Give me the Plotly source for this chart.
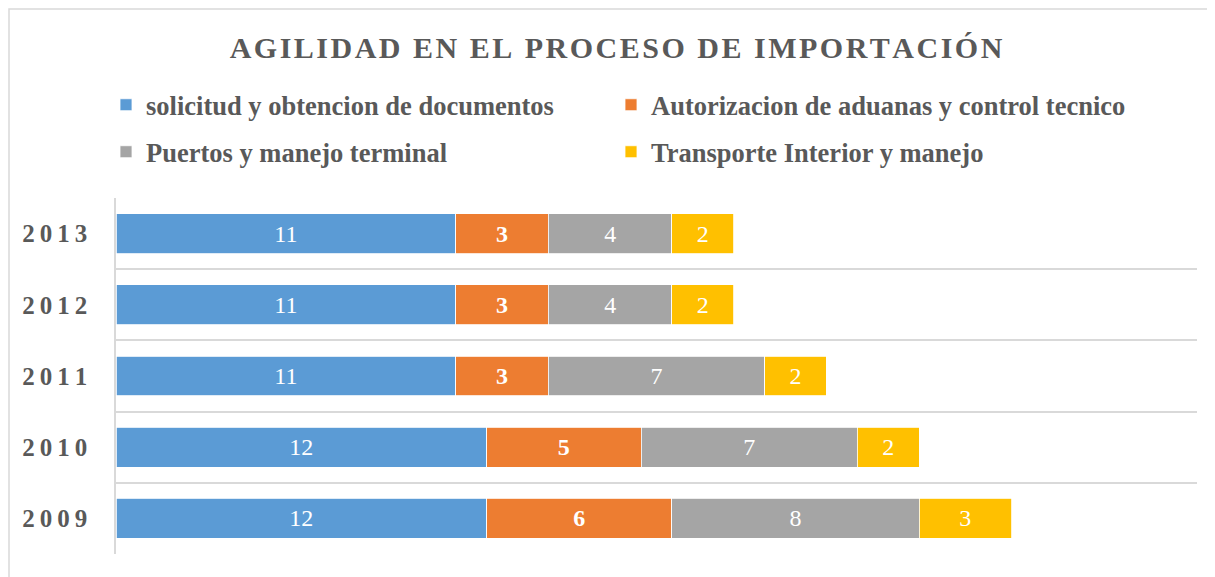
import plotly.graph_objects as go

years = ["2009", "2010", "2011", "2012", "2013"]
series_names = [
    "solicitud y obtencion de documentos",
    "Autorizacion de aduanas y control tecnico",
    "Puertos y manejo terminal",
    "Transporte Interior y manejo",
]
solicitud = [12, 12, 11, 11, 11]
autorizacion = [6, 5, 3, 3, 3]
puertos = [8, 7, 7, 4, 4]
transporte = [3, 2, 2, 2, 2]

values = [solicitud, autorizacion, puertos, transporte]
colors = ["#5B9BD5", "#ED7D31", "#A5A5A5", "#FFC000"]
legends = ["legend", "legend2", "legend3", "legend4"]
templates = ["%{x}", "<b>%{x}</b>", "%{x}", "%{x}"]

FONT = "Liberation Serif"
TXT = "#595959"
OFF = 8  # page body margin
W, H = 1215 - OFF, 577 - OFF
L, R, T, B = 116 - OFF, 18, 198 - OFF, 23
pw, ph = W - L - R, H - T - B

ypos = list(range(len(years)))

fig = go.Figure()
for name, vals, col, lg, tpl in zip(series_names, values, colors, legends, templates):
    fig.add_trace(go.Bar(
        y=ypos, x=vals, name="<b>" + name + "</b>", orientation="h",
        marker=dict(color=col, line=dict(color="white", width=0.8)),
        width=0.56,
        texttemplate=tpl, textposition="inside", insidetextanchor="middle",
        insidetextfont=dict(family=FONT, size=24, color="white"),
        legend=lg, cliponaxis=False,
    ))

title_text = "\u200a".join("AGILIDAD EN EL PROCESO DE IMPORTACIÓN")

def px_x(x):
    return (x - OFF - L) / pw

def px_y(y):
    return 1 - (y - OFF - T) / ph

legend_common = dict(orientation="h", xanchor="left", yanchor="middle",
                     font=dict(family=FONT, size=26.5, color=TXT),
                     bgcolor="rgba(0,0,0,0)")

fig.update_layout(
    barmode="stack",
    width=W, height=H,
    margin=dict(l=L, r=R, t=T, b=B),
    paper_bgcolor="white", plot_bgcolor="white",
    font=dict(family=FONT, color=TXT),
    title=dict(text="<b>" + title_text + "</b>", x=px_x(616), xref="paper",
               xanchor="center", y=1 - (47 - OFF) / H, yref="container", yanchor="middle",
               font=dict(family=FONT, size=30, color=TXT)),
    showlegend=True,
    legend=dict(x=px_x(106), y=px_y(105), **legend_common),
    legend2=dict(x=px_x(611), y=px_y(105), **legend_common),
    legend3=dict(x=px_x(106), y=px_y(152), **legend_common),
    legend4=dict(x=px_x(611), y=px_y(152), **legend_common),
    xaxis=dict(range=[0, 35], showgrid=False, showticklabels=False, zeroline=False,
               showline=False, ticks=""),
    yaxis=dict(range=[-0.5, 4.5], tickvals=ypos,
               ticktext=["<b>" + "\u2009".join(y) + "</b>" for y in years],
               tickfont=dict(family=FONT, size=25, color=TXT),
               showgrid=False, zeroline=False,
               showline=True, linecolor="#D9D9D9", linewidth=1.5,
               ticks="", ticklabelstandoff=22,
               minor=dict(tickvals=[i - 0.5 for i in range(len(years) + 1)],
                          showgrid=True, gridcolor="#D9D9D9", gridwidth=1.5, ticks="")),
    shapes=[dict(type="rect", xref="paper", yref="paper",
                 x0=px_x(9), x1=px_x(1225),
                 y0=px_y(590), y1=px_y(9),
                 line=dict(color="#D9D9D9", width=1.5), fillcolor="rgba(0,0,0,0)",
                 layer="below")],
)

fig.write_html("out.html")
